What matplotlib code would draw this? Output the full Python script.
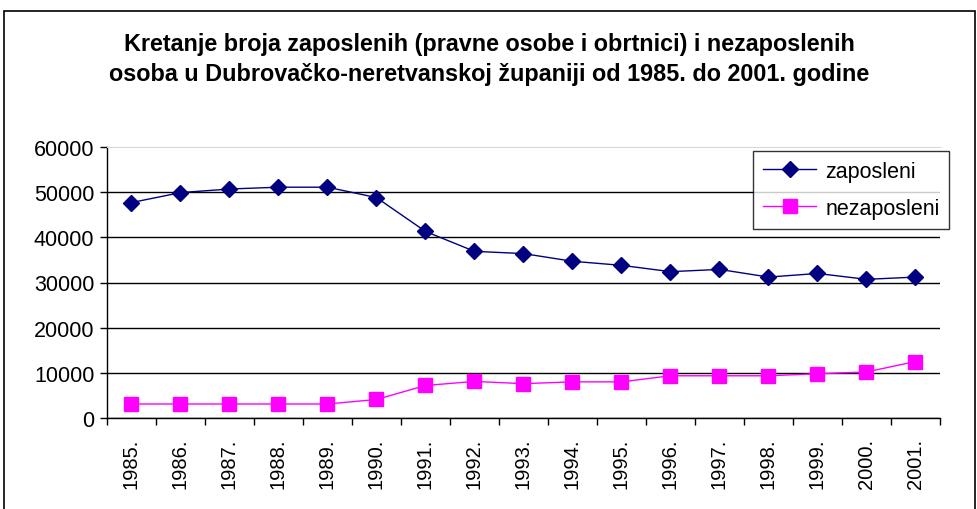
import matplotlib
matplotlib.use("Agg")
import matplotlib.pyplot as plt
from matplotlib.patches import Rectangle

plt.rcParams['font.family'] = ['Liberation Sans', 'DejaVu Sans']

# podaci
godine = ['1985.', '1986.', '1987.', '1988.', '1989.', '1990.', '1991.', '1992.', '1993.',
          '1994.', '1995.', '1996.', '1997.', '1998.', '1999.', '2000.', '2001.']
zaposleni = [47700, 49900, 50700, 51100, 51100, 48800, 41300, 36900, 36400,
             34700, 33800, 32400, 32900, 31200, 32000, 30700, 31200]
nezaposleni = [3100, 3100, 3100, 3100, 3100, 4100, 7200, 8100, 7600,
               8000, 8000, 9350, 9350, 9350, 9800, 10200, 12500]
y_ticks = [0, 10000, 20000, 30000, 40000, 50000, 60000]

W, H = 978, 510
fig = plt.figure(figsize=(W / 100, H / 100), dpi=100)
fig.patches.append(Rectangle((4 / W, -0.1), (975 - 4) / W, 1.1 - 12 / H,
                             transform=fig.transFigure, fill=False,
                             edgecolor='black', linewidth=1.2))

ax = fig.add_axes([107 / W, 1 - 419 / H, (940 - 107) / W, (419 - 148) / H])
x = list(range(len(godine)))

ax.plot(x, zaposleni, color='#000080', marker='D', markersize=8, linewidth=1,
        label='zaposleni')
ax.plot(x, nezaposleni, color='#FF00FF', marker='s', markersize=10, linewidth=1,
        label='nezaposleni')

ax.set_xlim(-0.5, len(godine) - 0.5)
ax.set_ylim(0, 60000)
ax.set_yticks(y_ticks)
ax.set_yticklabels([str(v) for v in y_ticks], fontsize=15.5)
ax.yaxis.grid(True, color='black', linewidth=1)
ax.yaxis.get_gridlines()[-1].set_visible(False)
ax.set_axisbelow(True)

ax.set_xticks(x)
ax.set_xticklabels(godine, rotation=90, fontsize=14.5)
ax.tick_params(axis='x', which='major', length=0, pad=14)
ax.set_xticks([i + 0.5 for i in range(-1, len(godine))], minor=True)
ax.tick_params(axis='x', which='minor', length=5, direction='out', width=1)
ax.tick_params(axis='y', length=5, direction='out', width=1, pad=4)

ax.spines['right'].set_visible(False)
ax.spines['top'].set_color('#d8d8d8')
ax.spines['left'].set_linewidth(1)
ax.spines['bottom'].set_linewidth(1)

leg = ax.legend(loc='upper right', bbox_to_anchor=(1.011, 0.985), fontsize=15.5,
                frameon=True, fancybox=False, handlelength=2.5, labelspacing=0.75,
                borderaxespad=0, handletextpad=0.4, borderpad=0.45)
leg.get_frame().set_edgecolor('black')
leg.get_frame().set_linewidth(1)

fig.text(0.5, 1 - 45 / H, 'Kretanje broja zaposlenih (pravne osobe i obrtnici) i nezaposlenih',
         ha='center', va='center', fontsize=16.8, fontweight='bold')
fig.text(0.5, 1 - 75 / H, 'osoba u Dubrovačko-neretvanskoj županiji od 1985. do 2001. godine',
         ha='center', va='center', fontsize=16.8, fontweight='bold')

fig.savefig('out.png', dpi=100)
